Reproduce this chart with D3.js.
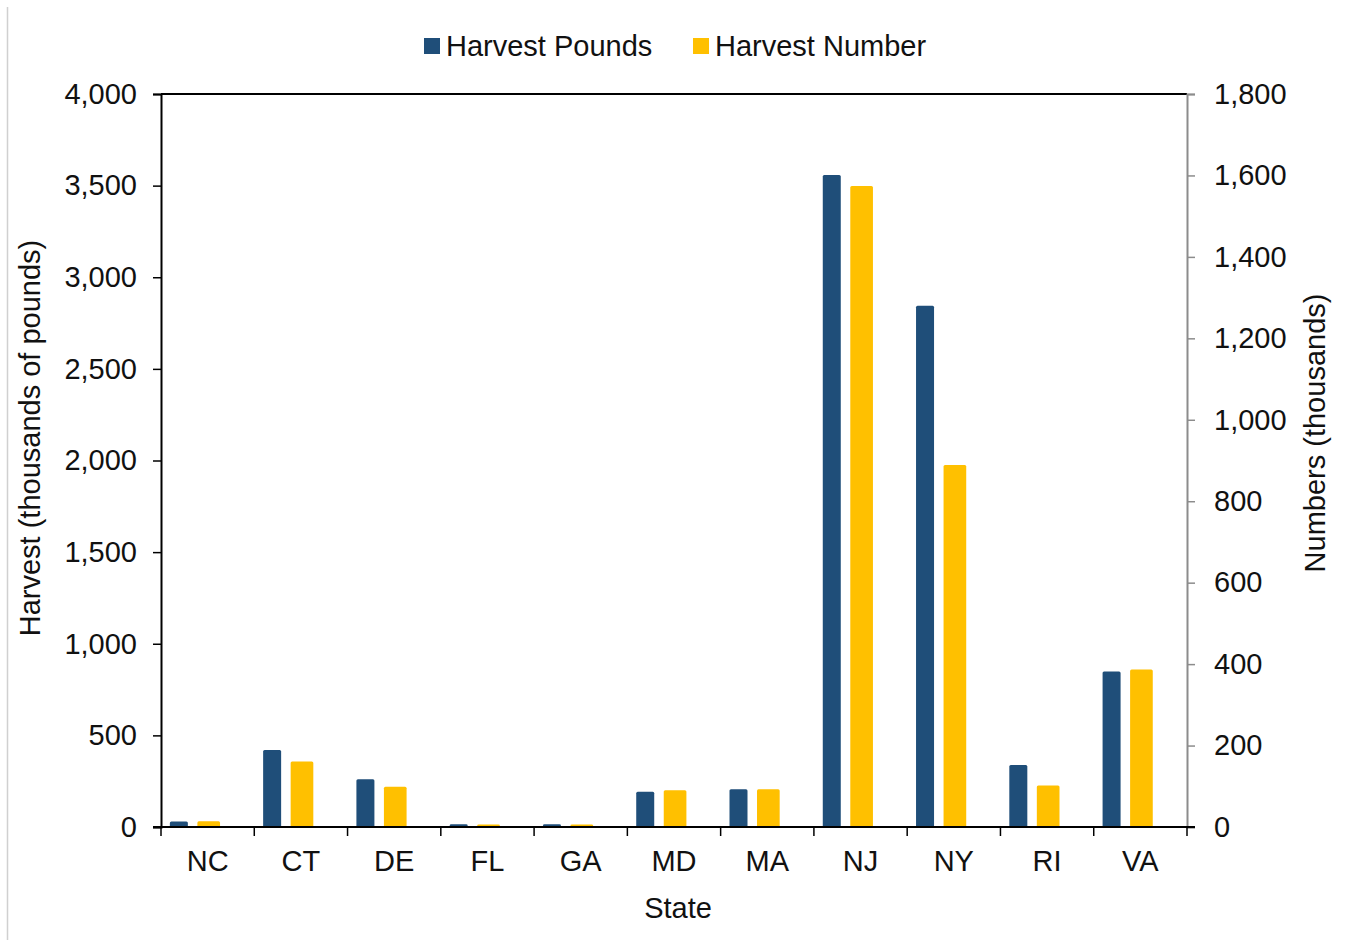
<!DOCTYPE html>
<html>
<head>
<meta charset="utf-8">
<script src="https://cdn.jsdelivr.net/npm/d3@7"></script>
<style>
  body { margin: 0; background: #fff; }
  svg { display: block; font-family: "Liberation Sans", Arial, sans-serif; }
</style>
</head>
<body>
<svg id="chart" width="1346" height="940"></svg>
<script>
// dados
const states = ["NC", "CT", "DE", "FL", "GA", "MD", "MA", "NJ", "NY", "RI", "VA"];
const harvestPounds = [30, 420, 260, 15, 15, 193, 206, 3558, 2845, 338, 848];
const harvestNumber = [14, 161, 99, 6, 6, 90, 93, 1574, 889, 102, 387];
const leftTicks = [0, 500, 1000, 1500, 2000, 2500, 3000, 3500, 4000];
const rightTicks = [0, 200, 400, 600, 800, 1000, 1200, 1400, 1600, 1800];

const svg = d3.select("#chart");
const margin = { top: 94, right: 159, bottom: 113, left: 161 };
const width = 1346, height = 940;
const fmt = d3.format(",");
const fs = 29;

// borda esquerda da imagem
svg.append("line")
  .attr("x1", 7.5).attr("x2", 7.5).attr("y1", 7).attr("y2", height)
  .attr("stroke", "#d0d0d0").attr("stroke-width", 1.5);

// eixo x
const x = d3.scaleBand()
  .domain(states)
  .range([margin.left, width - margin.right]);

// eixo y (esquerda)
const yL = d3.scaleLinear()
  .domain([0, 4000])
  .range([height - margin.bottom, margin.top]);

// eixo y (direita)
const yR = d3.scaleLinear()
  .domain([0, 1800])
  .range([height - margin.bottom, margin.top]);

const bw = x.bandwidth();

// barras - pounds
svg.append("g").selectAll("rect")
  .data(states)
  .join("rect")
  .attr("x", (d) => x(d) + bw * 0.095)
  .attr("width", bw * 0.193)
  .attr("y", (d, i) => yL(harvestPounds[i]))
  .attr("height", (d, i) => yL(0) - yL(harvestPounds[i]))
  .attr("rx", 1.5)
  .attr("fill", "#1F4E79");

// barras - number
svg.append("g").selectAll("rect")
  .data(states)
  .join("rect")
  .attr("x", (d) => x(d) + bw * 0.39)
  .attr("width", bw * 0.243)
  .attr("y", (d, i) => yR(harvestNumber[i]))
  .attr("height", (d, i) => yR(0) - yR(harvestNumber[i]))
  .attr("rx", 1.5)
  .attr("fill", "#FFC000");

// linha do topo
svg.append("line")
  .attr("x1", margin.left).attr("x2", width - margin.right)
  .attr("y1", margin.top).attr("y2", margin.top)
  .attr("stroke", "#000").attr("stroke-width", 2);

// eixo esquerdo
const gL = svg.append("g")
  .attr("transform", `translate(${margin.left},0)`)
  .call(d3.axisLeft(yL).tickValues(leftTicks).tickFormat(fmt).tickSizeOuter(0).tickSize(8).tickPadding(16));
gL.select(".domain").attr("stroke", "#000").attr("stroke-width", 2);
gL.selectAll(".tick line").attr("stroke", "#000").attr("stroke-width", 1.5);
gL.selectAll("text").attr("font-size", fs).attr("fill", "#111");

// eixo direito
const gR = svg.append("g")
  .attr("transform", `translate(${width - margin.right},0)`)
  .call(d3.axisRight(yR).tickValues(rightTicks).tickFormat(fmt).tickSizeOuter(0).tickSize(8).tickPadding(19));
gR.select(".domain").attr("stroke", "#8c8c8c").attr("stroke-width", 2);
gR.selectAll(".tick line").attr("stroke", "#8c8c8c").attr("stroke-width", 1.5);
gR.selectAll("text").attr("font-size", fs).attr("fill", "#111");

// eixo de baixo: marcas nos limites das categorias
const gB = svg.append("g")
  .attr("transform", `translate(0,${height - margin.bottom})`)
  .call(d3.axisBottom(x).tickSize(0).tickPadding(23));
gB.select(".domain").remove();
gB.selectAll("text").attr("font-size", fs).attr("fill", "#111");
svg.append("line")
  .attr("x1", margin.left - 8).attr("x2", width - margin.right + 8)
  .attr("y1", yL(0)).attr("y2", yL(0))
  .attr("stroke", "#000").attr("stroke-width", 2);
svg.append("g").selectAll("line")
  .data(states.concat(["end"]))
  .join("line")
  .attr("x1", (d, i) => i < states.length ? x(d) : x.range()[1])
  .attr("x2", (d, i) => i < states.length ? x(d) : x.range()[1])
  .attr("y1", yL(0)).attr("y2", yL(0) + 9)
  .attr("stroke", "#000").attr("stroke-width", 1.5);

// titulos dos eixos
svg.append("text")
  .attr("transform", "translate(40,438) rotate(-90)")
  .attr("text-anchor", "middle")
  .attr("font-size", fs).attr("fill", "#111")
  .text("Harvest (thousands of pounds)");

svg.append("text")
  .attr("transform", "translate(1325,433) rotate(-90)")
  .attr("text-anchor", "middle")
  .attr("font-size", fs).attr("fill", "#111")
  .text("Numbers (thousands)");

svg.append("text")
  .attr("x", (margin.left + width - margin.right) / 2 + 4).attr("y", 918)
  .attr("text-anchor", "middle")
  .attr("font-size", fs).attr("fill", "#111")
  .text("State");

// legenda
const legend = [
  { name: "Harvest Pounds", color: "#1F4E79", x: 424 },
  { name: "Harvest Number", color: "#FFC000", x: 693 }
];
const lg = svg.append("g").selectAll("g")
  .data(legend)
  .join("g")
  .attr("transform", (d) => `translate(${d.x},38)`);
lg.append("rect").attr("width", 16).attr("height", 16).attr("fill", (d) => d.color);
lg.append("text")
  .attr("x", 22).attr("y", 18)
  .attr("font-size", fs).attr("fill", "#111")
  .text((d) => d.name);
</script>
</body>
</html>
